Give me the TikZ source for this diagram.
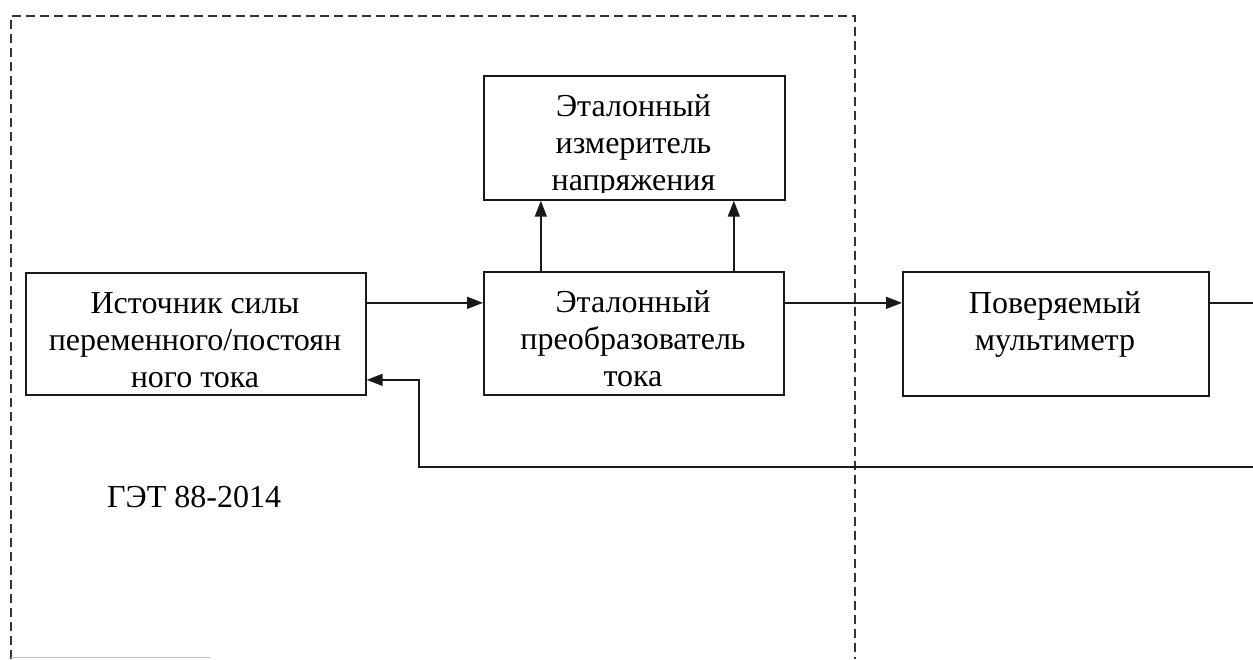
\documentclass[tikz,border=0pt]{standalone}
\usepackage{fontspec}
\setmainfont{Liberation Serif}
\usetikzlibrary{arrows.meta}
\begin{document}
\begin{tikzpicture}[x=1pt,y=-1pt,
  box/.style={draw=black!90, line width=1.7pt, inner sep=0pt, anchor=north west},
  txt/.style={font=\fontsize{32}{37}\selectfont, align=center, anchor=base, inner sep=0pt},
  conn/.style={draw=black!90, line width=1.5pt},
  arr/.style={conn, -{Triangle[length=16pt,width=12pt]}},
  frame/.style={draw=black!80, line width=1.4pt, dash pattern=on 9pt off 5pt}]
\useasboundingbox (0,0) rectangle (1253,659);
% boxes
\node[box, minimum width=340pt, minimum height=122pt] (src) at (25,272) {};
\node[box, minimum width=300pt, minimum height=123pt] (conv) at (483,271) {};
\node[box, minimum width=301pt, minimum height=124pt] (meas) at (483,75) {};
\node[box, minimum width=306pt, minimum height=124pt] (multi) at (902,271) {};
% texts (clipped like the original text boxes; base = last line)
\begin{scope}
\clip (src.north west) rectangle ([yshift=7pt]src.south east);
\node[txt] (srct) at (195,387) {Источник силы\\переменного/постоян\\ного тока};
\end{scope}
\begin{scope}
\clip (conv.north west) rectangle ([yshift=9pt]conv.south east);
\node[txt] (convt) at (633,386) {Эталонный\\преобразователь\\тока};
\end{scope}
\begin{scope}
\clip (meas.north west) rectangle ([yshift=8pt]meas.south east);
\node[txt] (meast) at (633.5,190) {Эталонный\\измеритель\\напряжения};
\end{scope}
\node[txt] (multit) at (1055,350) {Поверяемый\\мультиметр};
\node[txt, anchor=base west] (get) at (107,507) {ГЭТ 88-2014};
% dashed frame
\draw[frame] (11,659) -- (11,16) -- (855,16) -- (855,659);
\draw[black!25, line width=1pt] (11,657) -- (210,657);
% connectors
\coordinate (rout) at (1253,302);
\coordinate (fbr) at (1253,467);
\coordinate (fbc) at (419,467);
\draw[arr] ([yshift=31pt]src.east) -- ([yshift=31pt]src.east -| conv.west);
\draw[arr] ([yshift=30.5pt]conv.east) -- ([yshift=30.5pt]conv.east -| multi.west);
\draw[conn] ([yshift=31pt]multi.east) -- ([yshift=31pt]multi.east -| rout);
\draw[arr] (fbr) -- (fbc) |- ([yshift=-46pt]src.east);
\draw[arr] ([xshift=-93pt]conv.north) -- ([xshift=-93pt]conv.north |- meas.south);
\draw[arr] ([xshift=100pt]conv.north) -- ([xshift=100pt]conv.north |- meas.south);
\end{tikzpicture}
\end{document}
